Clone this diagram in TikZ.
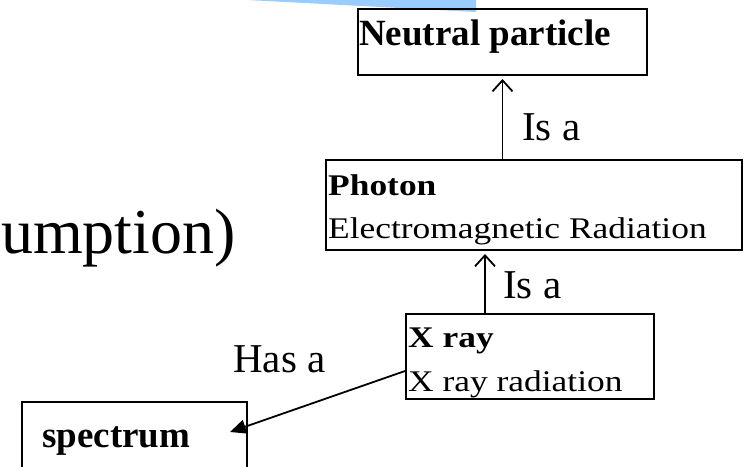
\documentclass[tikz,border=0pt]{standalone}
\usepackage{fontspec}
\setmainfont{Liberation Serif}
\newfontfamily\garfont[FakeStretch=1.18]{Liberation Serif}
\usetikzlibrary{arrows.meta,calc}
\definecolor{wedgeblue}{RGB}{153,204,255}
\begin{document}
\begin{tikzpicture}[x=1pt,y=-1pt,
  boxnode/.style={draw,line width=2pt,inner sep=0pt,anchor=north west},
  txt/.style={inner sep=0pt,anchor=base west},
  isarrow/.style={line width=1.8pt,-{Straight Barb[length=11pt,width=20pt,line width=1.8pt]}},
  hasarrow/.style={line width=1.8pt,-{Triangle[length=16pt,width=14pt]}},
  lbl/.style={inner sep=0pt,anchor=base west,font=\fontsize{41}{49}\selectfont},
  boxbold/.style={inner sep=0pt,anchor=base west,font=\fontsize{37}{44}\selectfont\bfseries},
  garbold/.style={inner sep=0pt,anchor=base west,font=\garfont\fontsize{30}{36}\selectfont\bfseries},
  garreg/.style={inner sep=0pt,anchor=base west,font=\garfont\fontsize{30}{36}\selectfont}]
\useasboundingbox (0,0) rectangle (744,466);
\clip (0,0) rectangle (744,466);
% blue wedge
\fill[wedgeblue] (247,0) -- (476,0) -- (476,12) -- cycle;
% boxes
\node[boxnode,minimum width=289pt,minimum height=66pt] (np) at (357,8) {};
\node[boxnode,minimum width=416pt,minimum height=90pt] (ph) at (325,159) {};
\node[boxnode,minimum width=248pt,minimum height=85pt] (xr) at (405,313) {};
\node[boxnode,minimum width=225pt,minimum height=100pt] (sp) at (21,401) {};
% texts in boxes
\node[boxbold] (tnp) at (359,45) {Neutral particle};
\node[garbold] (tph) at (328,195) {Photon};
\node[garreg] (tph2) at (328,238) {Electromagnetic Radiation};
\node[garbold] (txr) at (408,347) {X ray};
\node[garreg] (txr2) at (408,391) {X ray radiation};
\node[boxbold] (tsp) at (42,447) {spectrum};
% big partial text
\node[inner sep=0pt,anchor=base west,font=\fontsize{64}{76}\selectfont] (tum) at (1,253) {umption)};
% connectors
\coordinate (ax1) at (485,0);
\coordinate (sptip) at (230,432);
\draw[isarrow] (ph.north -| np.south) -- ([yshift=-3pt]np.south);
\draw[isarrow] (xr.north -| ax1) -- ([yshift=-3pt]ph.south -| ax1);
\draw[hasarrow] ([yshift=-14.5pt]xr.west) -- (sptip);
% labels
\node[lbl] (l1) at (522,140) {Is a};
\node[lbl] (l2) at (503,298) {Is a};
\node[lbl] (l3) at (233,372) {Has a};
\end{tikzpicture}
\end{document}
